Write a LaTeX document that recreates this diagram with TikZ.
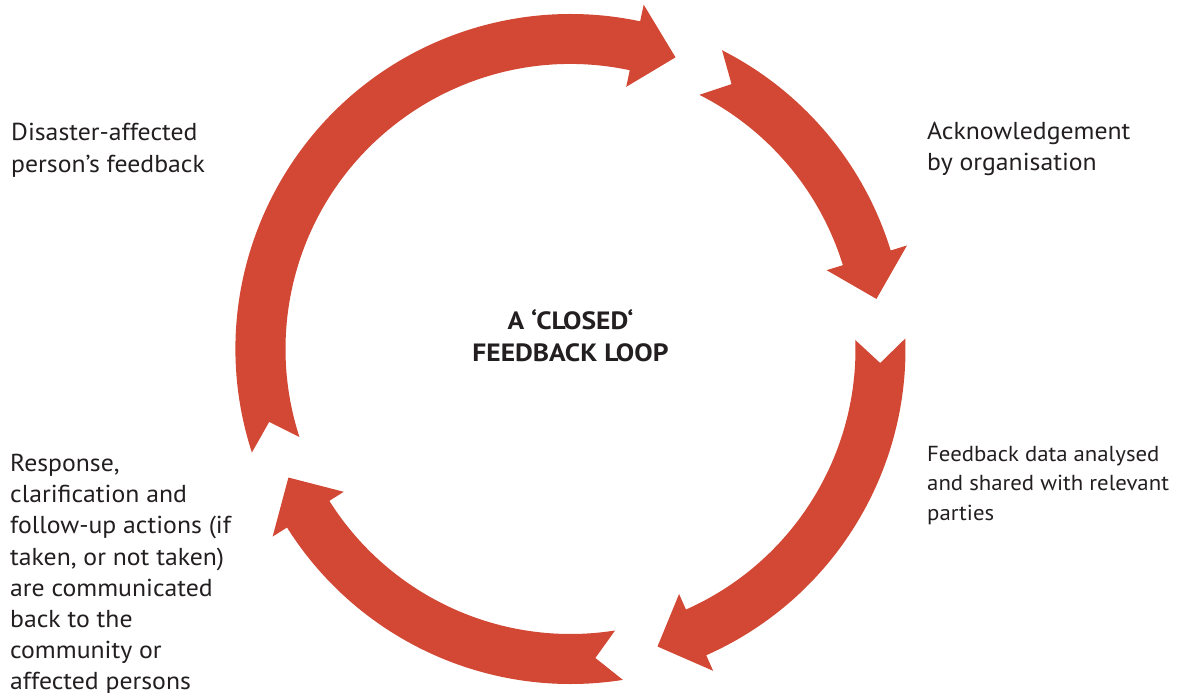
\documentclass[tikz,border=0pt]{standalone}
\usepackage{fontspec}
\setmainfont{PT Sans}[FakeStretch=1.05, BoldFeatures={FakeStretch=1.1}]
\definecolor{loopred}{RGB}{210,72,52}
\definecolor{ink}{RGB}{35,31,32}
% ring geometry (1 unit = 1pt)
\def\Ro{335}   % outer edge of the band
\def\Ri{285}   % inner edge of the band
\def\Rm{310}   % centre line (tips and tail notches)
\def\Rbo{352}  % outer barb of the heads
\def\Rbi{268}  % inner barb of the heads
\def\notch{4.4}
% curved arrow: tail angle, head-base angle, tip angle (clockwise)
\newcommand\ringarrow[3]{%
  \fill[loopred] (#1:\Ro) arc[start angle=#1, end angle=#2, radius=\Ro]
    -- (#2:\Rbo) -- (#3:\Rm) -- (#2:\Rbi) -- (#2:\Ri)
    arc[start angle=#2, end angle=#1, radius=\Ri]
    -- ({#1-\notch}:\Rm) -- cycle;}
\tikzset{
  lbl/.style={anchor=base west, inner sep=0pt, text=ink,
    font=\fontsize{24.5}{31.2}\selectfont},
  lblsmall/.style={lbl, font=\fontsize{21.7}{29.5}\selectfont},
  title/.style={anchor=base, inner sep=0pt, text=ink,
    font=\bfseries\fontsize{25}{31.7}\selectfont}
}
\begin{document}
\begin{tikzpicture}[x=1pt, y=1pt]
\useasboundingbox (0,0) rectangle (1184,693);
\fill[white] (0,0) rectangle (1184,693);

\begin{scope}[shift={(570.5,344)}]
  \ringarrow{198}{78}{70.2}
  \ringarrow{63.1}{17.1}{9.3}
  \ringarrow{1.8}{-66.1}{-73.7}
  \ringarrow{-81}{-147.8}{-155.5}
\end{scope}

\node[title] (loop) at (570.5,363)
  {\begin{tabular}[t]{@{}c@{}}A ‘CLOSED‘\\FEEDBACK LOOP\end{tabular}};

\node[lbl] (feedback) at (11,552)
  {\begin{tabular}[t]{@{}l@{}}Disaster-affected\\person’s feedback\end{tabular}};

\node[lbl] (ack) at (927,553.5)
  {\begin{tabular}[t]{@{}l@{}}Acknowledgement\\by organisation\end{tabular}};

\node[lblsmall] (analysed) at (927,231.5)
  {\begin{tabular}[t]{@{}l@{}}Feedback data analysed\\and shared with relevant\\parties\end{tabular}};

\node[lbl] (response) at (10,221.5)
  {\begin{tabular}[t]{@{}l@{}}Response,\\clarification and\\follow-up actions (if\\taken, or not taken)\\are communicated\\back to the\\community or\\affected persons\end{tabular}};
\end{tikzpicture}
\end{document}
